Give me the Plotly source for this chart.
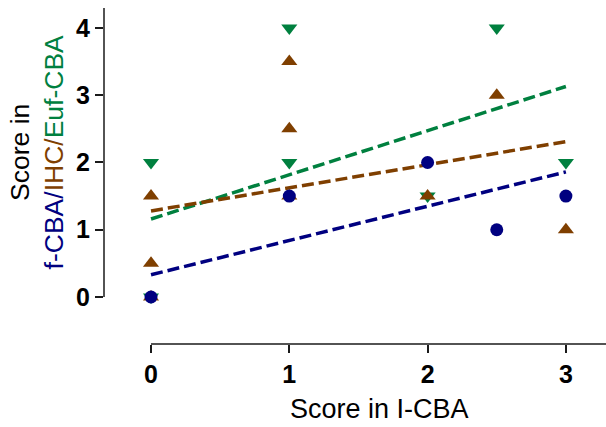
import plotly.graph_objects as go

# Scores on l-CBA (x) against f-CBA, IHC and Euf-CBA (y)
fcba_x = [0, 1, 2, 2.5, 3]
fcba_y = [0, 1.5, 2, 1, 1.5]

ihc_x = [0, 0, 0, 1, 1, 1, 2, 2.5, 3]
ihc_y = [0, 0.5, 1.5, 1.5, 2.5, 3.5, 1.5, 3, 1]

euf_x = [0, 0, 1, 1, 2, 2.5, 3]
euf_y = [0, 2, 2, 4, 1.5, 4, 2]

# Linear fits, evaluated at the ends of the l-CBA range
fit_x = [0, 3]
fcba_fit = [0.33, 1.86]
ihc_fit = [1.28, 2.31]
euf_fit = [1.16, 3.13]

x_ticks = [0, 1, 2, 3]
y_ticks = [0, 1, 2, 3, 4]

BLUE = "#000080"
BROWN = "#7f3f00"
GREEN = "#00803f"
AXIS = "#1a1a1a"
FONT = "Arial, Liberation Sans, sans-serif"

X_RANGE = [-0.34, 3.29]
Y_RANGE = [-0.699, 4.297]

fig = go.Figure()

dash = "12px,5px"
for ys, col in [(euf_fit, GREEN), (ihc_fit, BROWN), (fcba_fit, BLUE)]:
    fig.add_trace(go.Scatter(x=fit_x, y=ys, mode="lines",
                             line=dict(color=col, width=3.5, dash=dash),
                             hoverinfo="skip", showlegend=False))

fig.add_trace(go.Scatter(x=euf_x, y=euf_y, mode="markers", name="Euf-CBA",
                         marker=dict(symbol="triangle-down", size=14, color=GREEN,
                                     line=dict(width=0)),
                         cliponaxis=False, showlegend=False))
fig.add_trace(go.Scatter(x=ihc_x, y=ihc_y, mode="markers", name="IHC",
                         marker=dict(symbol="triangle-up", size=14, color=BROWN,
                                     line=dict(width=0)),
                         cliponaxis=False, showlegend=False))
fig.add_trace(go.Scatter(x=fcba_x, y=fcba_y, mode="markers", name="f-CBA",
                         marker=dict(symbol="circle", size=13, color=BLUE,
                                     line=dict(width=0)),
                         cliponaxis=False, showlegend=False))

# Axis lines drawn only over the data span
fig.add_shape(type="line", xref="paper", yref="y", x0=0, x1=0,
              y0=0, y1=Y_RANGE[1], line=dict(color=AXIS, width=1.5))
fig.add_shape(type="line", xref="x", yref="paper", x0=0, x1=X_RANGE[1],
              y0=0, y1=0, line=dict(color=AXIS, width=1.5))

# Axis titles
fig.add_annotation(xref="paper", yref="y", x=0, y=2.15, xshift=-67,
                   xanchor="center", yanchor="middle", textangle=-90,
                   showarrow=False,
                   text=("Score in<br>"
                         f"<span style='color:{BLUE}'>f-CBA/</span>"
                         f"<span style='color:{BROWN}'>IHC/</span>"
                         f"<span style='color:{GREEN}'>Euf-CBA</span>"),
                   font=dict(family=FONT, size=26.5, color="#000000"))
fig.add_annotation(xref="x", yref="paper", x=1.655, y=0, yshift=-65,
                   xanchor="center", yanchor="middle", showarrow=False,
                   text="Score in I-CBA",
                   font=dict(family=FONT, size=27, color="#000000"))

fig.update_xaxes(range=X_RANGE, tickvals=x_ticks, ticktext=[str(v) for v in x_ticks],
                 showgrid=False, zeroline=False, showline=False,
                 ticks="outside", ticklen=8, tickwidth=1.5, tickcolor=AXIS,
                 tickfont=dict(family=FONT, size=25, color="#000000", weight="bold"))
fig.update_yaxes(range=Y_RANGE, tickvals=y_ticks, ticktext=[str(v) for v in y_ticks],
                 showgrid=False, zeroline=False, showline=False,
                 ticks="outside", ticklen=8, tickwidth=1.5, tickcolor=AXIS,
                 tickfont=dict(family=FONT, size=25, color="#000000", weight="bold"))

fig.update_layout(width=606, height=427,
                  margin=dict(l=104, r=0, t=8, b=83),
                  plot_bgcolor="white", paper_bgcolor="white",
                  showlegend=False)

fig.write_html("out.html")
